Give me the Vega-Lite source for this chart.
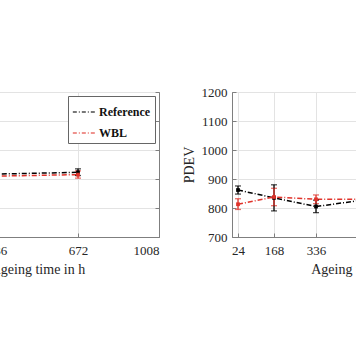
{
  "$schema": "https://vega.github.io/schema/vega-lite/v6.json",
  "background": "white",
  "padding": {"left": -86, "top": 85, "right": 0, "bottom": 0},
  "spacing": 21,
  "config": {
    "font": "Liberation Serif",
    "view": {"stroke": "#7f7f7f", "strokeWidth": 1},
    "axis": {
      "labelFont": "Liberation Serif", "labelFontSize": 13, "labelColor": "#262626",
      "titleFont": "Liberation Serif", "titleFontSize": 14, "titleColor": "#262626", "titleFontWeight": "normal",
      "gridColor": "#e3e3e3", "gridWidth": 1, "domainColor": "#7f7f7f", "tickColor": "#7f7f7f",
      "tickSize": -4, "labelPadding": 11, "titlePadding": 5, "labelOverlap": false, "format": "d"
    },
    "legend": {
      "labelFont": "Liberation Serif", "labelFontSize": 12, "labelFontWeight": "bold", "labelColor": "#111"
    }
  },
  "datasets": {
    "left": [
      {"series": "Reference", "t": 24, "v": 912, "lo": 902, "hi": 922},
      {"series": "Reference", "t": 168, "v": 915, "lo": 905, "hi": 925},
      {"series": "Reference", "t": 336, "v": 917, "lo": 907, "hi": 927},
      {"series": "Reference", "t": 672, "v": 923, "lo": 912, "hi": 935},
      {"series": "WBL", "t": 24, "v": 905, "lo": 895, "hi": 915},
      {"series": "WBL", "t": 168, "v": 908, "lo": 898, "hi": 918},
      {"series": "WBL", "t": 336, "v": 910, "lo": 900, "hi": 920},
      {"series": "WBL", "t": 672, "v": 915, "lo": 903, "hi": 928}
    ],
    "right": [
      {"series": "Reference", "t": 24, "v": 862, "lo": 848, "hi": 876},
      {"series": "Reference", "t": 168, "v": 835, "lo": 790, "hi": 880},
      {"series": "Reference", "t": 336, "v": 805, "lo": 784, "hi": 827},
      {"series": "Reference", "t": 672, "v": 845, "lo": 825, "hi": 865},
      {"series": "WBL", "t": 24, "v": 813, "lo": 795, "hi": 832},
      {"series": "WBL", "t": 168, "v": 838, "lo": 808, "hi": 868},
      {"series": "WBL", "t": 336, "v": 830, "lo": 815, "hi": 845},
      {"series": "WBL", "t": 672, "v": 830, "lo": 815, "hi": 845}
    ]
  },
  "resolve": {"legend": {"color": "independent"}},
  "hconcat": [
    {
      "width": 243, "height": 145,
      "data": {"name": "left"},
      "encoding": {
        "x": {"field": "t", "type": "quantitative", "scale": {"domain": [0, 1008]},
              "axis": {"values": [24, 168, 336, 672, 1008], "title": "Ageing time in h", "grid": true, "labelOverlap": false}},
        "color": {"field": "series", "type": "nominal",
                  "scale": {"domain": ["Reference", "WBL"], "range": ["#000000", "#e0332b"]},
                  "legend": {"title": null, "orient": "top-right", "offset": 4, "padding": 4,
                             "strokeColor": "#666", "fillColor": "white",
                             "symbolType": "stroke", "symbolSize": 500, "symbolStrokeWidth": 1.5,
                             "symbolDash": [4, 2, 1, 2], "rowPadding": 3, "labelOffset": 3}}
      },
      "layer": [
        {"mark": {"type": "line", "strokeWidth": 1.5, "strokeDash": [5, 2, 1, 2]},
         "encoding": {"y": {"field": "v", "type": "quantitative", "scale": {"domain": [700, 1200]},
                            "axis": {"orient": "right", "labels": false, "title": null, "grid": true,
                                     "values": [700, 800, 900, 1000, 1100, 1200]}}}},
        {"mark": {"type": "errorbar", "ticks": {"size": 6}, "thickness": 1.3},
         "encoding": {"y": {"field": "lo", "type": "quantitative",
                            "axis": {"orient": "right", "labels": false, "title": null, "grid": true,
                                     "values": [700, 800, 900, 1000, 1100, 1200]}}, "y2": {"field": "hi"}}},
        {"mark": {"type": "point", "shape": "square", "filled": true, "size": 14, "opacity": 1},
         "encoding": {"y": {"field": "v", "type": "quantitative",
                            "axis": {"orient": "right", "labels": false, "title": null, "grid": true,
                                     "values": [700, 800, 900, 1000, 1100, 1200]}}}}
      ]
    },
    {
      "width": 252, "height": 145,
      "data": {"name": "right"},
      "encoding": {
        "x": {"field": "t", "type": "quantitative", "scale": {"domain": [0, 1008]},
              "axis": {"values": [24, 168, 336, 672, 1008], "title": "Ageing time in h", "grid": true, "labelOverlap": false}},
        "color": {"field": "series", "type": "nominal",
                  "scale": {"domain": ["Reference", "WBL"], "range": ["#000000", "#e0332b"]},
                  "legend": null}
      },
      "layer": [
        {"mark": {"type": "line", "strokeWidth": 1.5, "strokeDash": [5, 2, 1, 2]},
         "encoding": {"y": {"field": "v", "type": "quantitative", "scale": {"domain": [700, 1200]},
                            "axis": {"title": "PDEV", "grid": true, "values": [700, 800, 900, 1000, 1100, 1200], "labelPadding": 9}}}},
        {"mark": {"type": "errorbar", "ticks": {"size": 6}, "thickness": 1.3},
         "encoding": {"y": {"field": "lo", "type": "quantitative",
                            "axis": {"title": "PDEV", "grid": true, "values": [700, 800, 900, 1000, 1100, 1200], "labelPadding": 9}}, "y2": {"field": "hi"}}},
        {"mark": {"type": "point", "shape": "square", "filled": true, "size": 14, "opacity": 1},
         "encoding": {"y": {"field": "v", "type": "quantitative",
                            "axis": {"title": "PDEV", "grid": true, "values": [700, 800, 900, 1000, 1100, 1200], "labelPadding": 9}}}}
      ]
    }
  ]
}
